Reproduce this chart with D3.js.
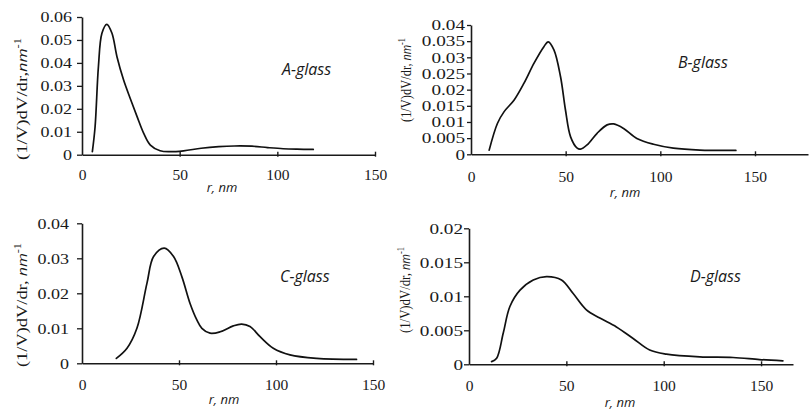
<!DOCTYPE html>
<html><head><meta charset="utf-8">
<script src="https://cdn.jsdelivr.net/npm/d3@7"></script>
<style>
html,body{margin:0;padding:0;background:#fff;}
svg{display:block;}
</style></head>
<body>
<svg id="chart" width="809" height="410"></svg>
<script>
// ---- data ----
const glassNames = ["A-glass", "B-glass", "C-glass", "D-glass"];
const xTicks = [0, 50, 100, 150];
const yTicksA = [0, 0.01, 0.02, 0.03, 0.04, 0.05, 0.06];
const yTicksB = [0, 0.005, 0.01, 0.015, 0.02, 0.025, 0.03, 0.035, 0.04];
const yTicksC = [0, 0.01, 0.02, 0.03, 0.04];
const yTicksD = [0, 0.005, 0.01, 0.015, 0.02];

const rA = [5.3, 6.7, 8.4, 10.2, 12.7, 15.3, 17.9, 21.3, 24.7, 28.2, 31.6, 35, 40, 45, 52, 61, 70, 78, 87, 95, 103, 110, 118.4];
const vA = [0.0013, 0.0122, 0.0383, 0.0529, 0.0568, 0.053, 0.0427, 0.0325, 0.0245, 0.0166, 0.0093, 0.0042, 0.0017, 0.0013, 0.0017, 0.0028, 0.0035, 0.0038, 0.0037, 0.0031, 0.0026, 0.0024, 0.0023];

const rB = [9.6, 14, 17.5, 22.8, 28, 33.3, 38.5, 40.8, 43.8, 47.3, 49.9, 52.6, 56.1, 57.8, 61.3, 66.6, 71.9, 75.4, 80.6, 87.6, 96.4, 106.9, 120.9, 139.9];
const vB = [0.0013, 0.0096, 0.0132, 0.0168, 0.022, 0.0282, 0.0333, 0.0348, 0.0323, 0.024, 0.0137, 0.0054, 0.0019, 0.0016, 0.0029, 0.0065, 0.0091, 0.0094, 0.008, 0.0049, 0.0031, 0.0019, 0.0013, 0.0012];

const rC = [17.7, 23.2, 28.3, 33.5, 36.9, 42.4, 47.2, 51.5, 55.7, 59.2, 61.8, 66, 71.2, 78, 82.3, 86.6, 91.8, 98.6, 107.2, 121, 141.5];
const vC = [0.0014, 0.0043, 0.01, 0.0229, 0.0305, 0.0329, 0.0305, 0.0247, 0.0171, 0.0124, 0.01, 0.0086, 0.009, 0.0107, 0.0112, 0.0105, 0.0076, 0.0043, 0.0024, 0.0014, 0.0011];

const rD = [11.6, 14.2, 17.6, 21, 26.2, 33, 39.8, 47.5, 53.5, 60.3, 67.2, 75.7, 84.3, 92.8, 101.4, 118.5, 135.6, 149.2, 161.2];
const vD = [0.0004, 0.0009, 0.0046, 0.0085, 0.0109, 0.0124, 0.0129, 0.0124, 0.0104, 0.008, 0.0068, 0.0055, 0.0038, 0.0021, 0.0015, 0.0011, 0.001, 0.0007, 0.0005];

// ---- layout (positions / styles) ----
const panels = [
  {name: glassNames[0], r: rA, v: vA, yTicks: yTicksA, xMax: 150, x0: 82, x1: 375, yTop: 17, yBot: 154.7,
   tickLen: 5, yPad: 5, xLabOff: 20, ch: 9, dot: 4.5,
   glass: [282, 75], rnm: [222, 192], ylab: [22, 99, 122], comma: ",", xTickMarks: [50,100,150]},
  {name: glassNames[1], r: rB, v: vB, yTicks: yTicksB, xMax: 178, x0: 471, x1: 808, yTop: 25, yBot: 154.3,
   tickLen: 4, yPad: 2, xLabOff: 22, ch: 9.6, dot: 4.8,
   glass: [678, 68], rnm: [625, 197], ylab: [406, 80, 84], comma: ", ", xTickMarks: [50,100,150]},
  {name: glassNames[2], r: rC, v: vC, yTicks: yTicksC, xMax: 150, x0: 82, x1: 373, yTop: 223.3, yBot: 363.3,
   tickLen: 5, yPad: 8, xLabOff: 21, ch: 9, dot: 4.5,
   glass: [280, 282], rnm: [224, 404], ylab: [22, 305, 124], comma: ", ", xTickMarks: [50,100,150]},
  {name: glassNames[3], r: rD, v: vD, yTicks: yTicksD, xMax: 166.4, x0: 469, x1: 793, yTop: 228.3, yBot: 364.3,
   tickLen: 5, yPad: 1, xLabOff: 21, ch: 9.6, dot: 4.8,
   glass: [690, 282], rnm: [620, 407], ylab: [405, 290, 86], comma: ", ", xTickMarks: [50,100,150]}
];

const svg = d3.select("#chart");
const fmt = d => d === 0 ? "0" : String(+d.toFixed(3));

panels.forEach(p => {
  const g = svg.append("g");
  const x = d3.scaleLinear().domain([0, p.xMax]).range([p.x0, p.x1]);
  const yMax = d3.max(p.yTicks);
  const y = d3.scaleLinear().domain([0, yMax]).range([p.yBot, p.yTop]);

  // y axis
  const ya = g.append("g").attr("transform", `translate(${p.x0},0)`)
    .call(d3.axisLeft(y).tickValues(p.yTicks).tickFormat(fmt).tickSizeInner(p.tickLen).tickSizeOuter(0).tickPadding(p.yPad));
  ya.select(".domain").attr("stroke", "#1a1a1a").attr("stroke-width", 1.6);
  ya.selectAll(".tick line").attr("stroke", "#1a1a1a").attr("stroke-width", 1.3);
  ya.selectAll(".tick text")
    .attr("font-family", "'Liberation Serif', 'Times New Roman', serif")
    .attr("font-size", 15).attr("fill", "#1a1a1a")
    .attr("textLength", d => { const s = fmt(d); const nd = s.replace(".", "").length; return nd * p.ch + (s.includes(".") ? p.dot : 0); })
    .attr("lengthAdjust", "spacingAndGlyphs");

  // x axis
  const xa = g.append("g").attr("transform", `translate(0,${p.yBot})`)
    .call(d3.axisBottom(x).tickValues(xTicks).tickFormat(d3.format("d")).tickSizeInner(0).tickSizeOuter(0).tickPadding(0));
  xa.select(".domain").attr("stroke", "#1a1a1a").attr("stroke-width", 1.6);
  xa.selectAll(".tick line")
    .attr("y1", d => p.xTickMarks.includes(d) ? -3 : 0)
    .attr("y2", d => p.xTickMarks.includes(d) ? 2 : 0)
    .attr("stroke", "#1a1a1a").attr("stroke-width", 1.4);
  xa.selectAll(".tick text")
    .attr("y", p.xLabOff).attr("dy", "0.35em")
    .attr("font-family", "'Liberation Serif', 'Times New Roman', serif")
    .attr("font-size", 15.5).attr("fill", "#1a1a1a");

  // curve
  const line = d3.line().x(d => x(d[0])).y(d => y(d[1])).curve(d3.curveCatmullRom.alpha(0.5));
  g.append("path").datum(d3.zip(p.r, p.v))
    .attr("d", line).attr("fill", "none").attr("stroke", "#111").attr("stroke-width", 1.7)
    .attr("stroke-linejoin", "round").attr("stroke-linecap", "round");

  // glass label
  g.append("text").attr("x", p.glass[0]).attr("y", p.glass[1])
    .attr("font-family", "'Open Sans', sans-serif").attr("font-style", "italic")
    .attr("font-size", 16).attr("fill", "#1a1a1a").text(p.name);

  // x axis title
  g.append("text").attr("x", p.rnm[0]).attr("y", p.rnm[1]).attr("text-anchor", "middle")
    .attr("font-family", "'Open Sans', sans-serif").attr("font-style", "italic")
    .attr("font-size", 13).attr("fill", "#1a1a1a").text("r, nm");

  // y axis title
  const t = g.append("text")
    .attr("transform", `translate(${p.ylab[0] + 5},${p.ylab[1]}) rotate(-90)`)
    .attr("text-anchor", "middle").attr("fill", "#1a1a1a")
    .attr("textLength", p.ylab[2]).attr("lengthAdjust", "spacingAndGlyphs");
  t.append("tspan").attr("font-family", "'Liberation Serif', 'Times New Roman', serif").attr("font-size", 15)
    .text("(1/V)dV/dr" + p.comma.trim());
  t.append("tspan").attr("font-family", "'Open Sans', sans-serif").attr("font-style", "italic").attr("font-size", 13)
    .text((p.comma.length > 1 ? " " : "") + "nm");
  t.append("tspan").attr("font-family", "'Liberation Serif', serif").attr("font-size", 10).attr("dy", -6)
    .text("-1");
});
</script>
</body></html>
